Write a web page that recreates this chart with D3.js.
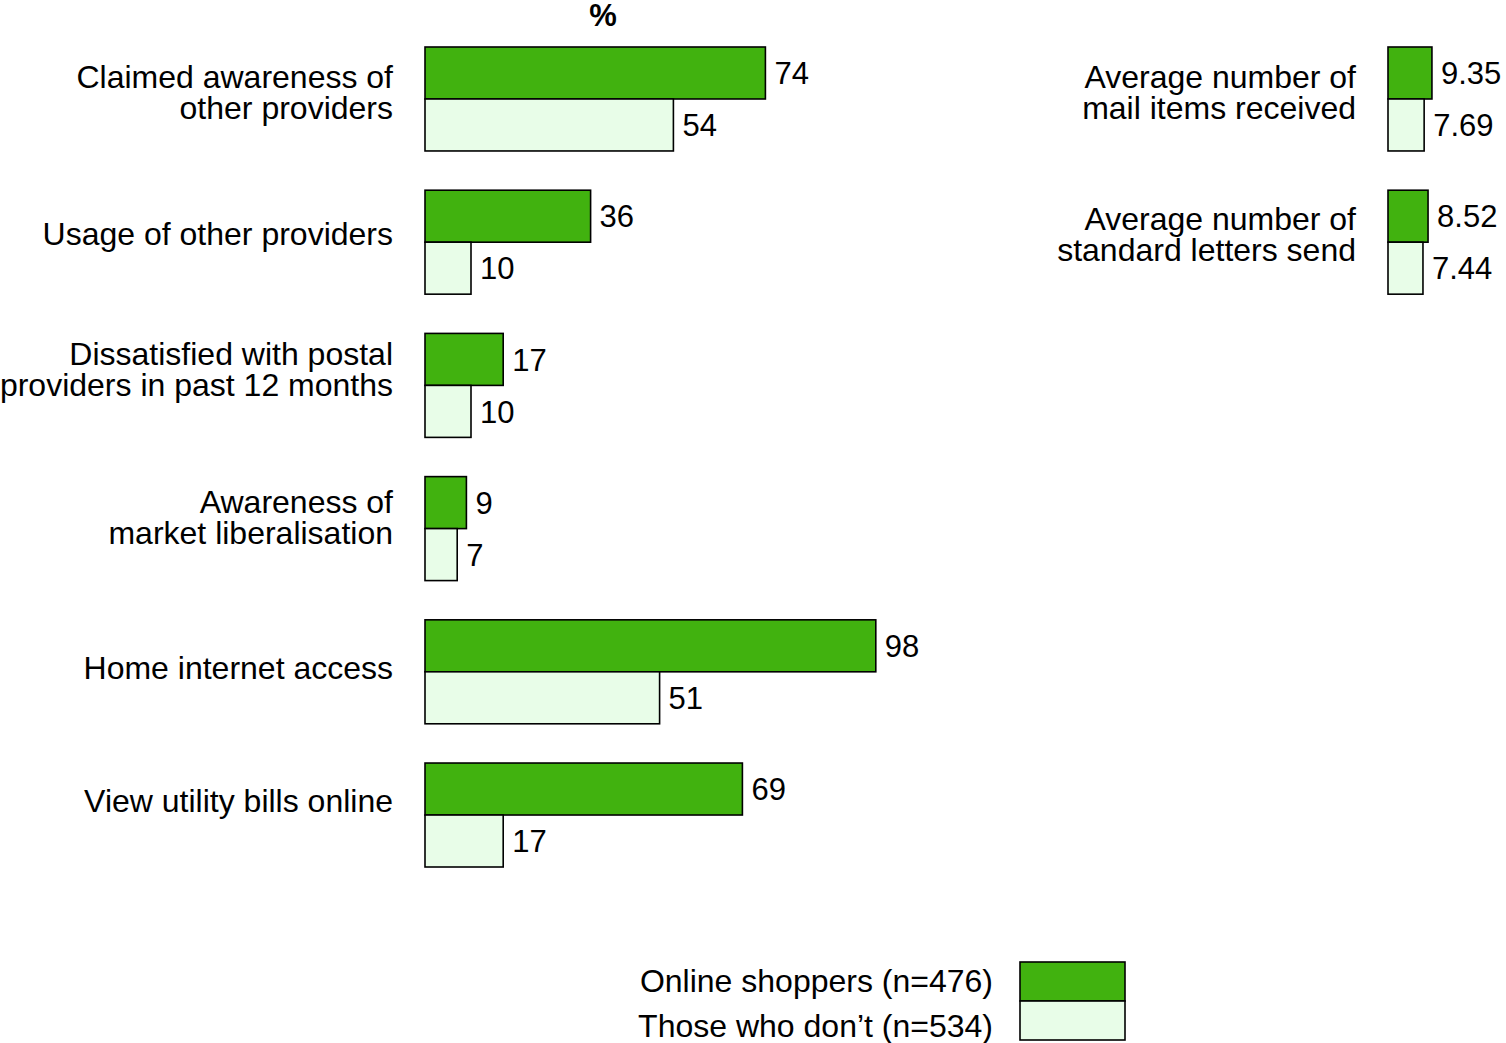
<!DOCTYPE html>
<html>
<head>
<meta charset="utf-8">
<script src="https://cdnjs.cloudflare.com/ajax/libs/d3/7.8.5/d3.min.js"></script>
<style>
  body { margin: 0; background: #fff; }
  text { font-family: "Liberation Sans", Arial, sans-serif; fill: #000; }
</style>
</head>
<body>
<div class="chart"></div>
<script>
// left panel, percentages
var categories = [
    ["Claimed awareness of", "other providers"],
    ["Usage of other providers"],
    ["Dissatisfied with postal", "providers in past 12 months"],
    ["Awareness of", "market liberalisation"],
    ["Home internet access"],
    ["View utility bills online"]
];
var onlineShoppers = [74, 36, 17, 9, 98, 69];
var nonShoppers = [54, 10, 10, 7, 51, 17];

// right panel, averages
var avgCategories = [
    ["Average number of", "mail items received"],
    ["Average number of", "standard letters send"]
];
var avgOnline = [9.35, 8.52];
var avgNon = [7.69, 7.44];
var avgLabels = [["9.35", "7.69"], ["8.52", "7.44"]];

var seriesNames = ["Online shoppers (n=476)", "Those who don\u2019t (n=534)"];

var svgW = 1506;
var svgH = 1043;
var green = "#41b20f";
var pale = "#e8fde8";

var svg = d3.select(".chart")
    .append("svg")
    .attr("width", svgW)
    .attr("height", svgH);

var xLS = d3.scaleLinear().domain([0, 100]).range([425, 885]);
var yLS = d3.scaleBand()
    .domain(d3.range(categories.length))
    .range([47, 867])
    .paddingInner(0.274)
    .paddingOuter(0);
var barH = yLS.bandwidth() / 2;

var xRS = d3.scaleLinear().domain([0, 10]).range([1388, 1435]);
var yRS = d3.scaleBand()
    .domain(d3.range(avgCategories.length))
    .range([47, 47 + yLS.step() + yLS.bandwidth()])
    .paddingInner(0.274)
    .paddingOuter(0);

svg.append("text")
    .attr("x", 603)
    .attr("y", 15)
    .attr("dy", "0.35em")
    .attr("text-anchor", "middle")
    .style("font-size", "31px")
    .style("font-weight", "bold")
    .text("%");

function drawPanel(g, cats, s1, s2, lab, xs, ys, labelX, offsets) {
    var rows = g.selectAll("g.row")
        .data(cats)
        .enter()
        .append("g")
        .attr("class", "row")
        .attr("transform", function(d, i) { return "translate(0," + ys(i) + ")"; });

    rows.append("rect")
        .attr("x", xs(0))
        .attr("y", 0)
        .attr("width", function(d, i) { return xs(s1[i]) - xs(0); })
        .attr("height", barH)
        .attr("fill", green)
        .attr("stroke", "#000")
        .attr("stroke-width", 1.6);

    rows.append("rect")
        .attr("x", xs(0))
        .attr("y", barH)
        .attr("width", function(d, i) { return xs(s2[i]) - xs(0); })
        .attr("height", barH)
        .attr("fill", pale)
        .attr("stroke", "#000")
        .attr("stroke-width", 1.6);

    rows.append("text")
        .attr("x", function(d, i) { return xs(s1[i]) + 9; })
        .attr("y", barH / 2)
        .attr("dy", "0.36em")
        .style("font-size", "31px")
        .text(function(d, i) { return lab(i, 0); });

    rows.append("text")
        .attr("x", function(d, i) { return xs(s2[i]) + 9; })
        .attr("y", barH * 1.5)
        .attr("dy", "0.36em")
        .style("font-size", "31px")
        .text(function(d, i) { return lab(i, 1); });

    rows.each(function(d, i) {
        var t = d3.select(this).append("text")
            .attr("text-anchor", "end")
            .style("font-size", "32px");
        var mid = barH + offsets[i];
        d.forEach(function(line, k) {
            t.append("tspan")
                .attr("x", labelX)
                .attr("y", mid + (k - (d.length - 1) / 2) * 31)
                .attr("dy", "0.36em")
                .text(line);
        });
    });
}

drawPanel(svg.append("g"), categories, onlineShoppers, nonShoppers,
    function(i, k) { return k === 0 ? onlineShoppers[i] : nonShoppers[i]; },
    xLS, yLS, 393, [-7, -9, -16, -12, -4, -15]);

drawPanel(svg.append("g"), avgCategories, avgOnline, avgNon,
    function(i, k) { return avgLabels[i][k]; },
    xRS, yRS, 1356, [-7, -8]);

// legend
var legend = svg.append("g").attr("class", "legend");
legend.selectAll("rect")
    .data(seriesNames)
    .enter()
    .append("rect")
    .attr("x", 1020)
    .attr("y", function(d, i) { return 962 + i * 39; })
    .attr("width", 105)
    .attr("height", 39)
    .attr("fill", function(d, i) { return i === 0 ? green : pale; })
    .attr("stroke", "#000")
    .attr("stroke-width", 1.6);

legend.selectAll("text")
    .data(seriesNames)
    .enter()
    .append("text")
    .attr("x", 993)
    .attr("y", function(d, i) { return 980 + i * 45; })
    .attr("dy", "0.36em")
    .attr("text-anchor", "end")
    .style("font-size", "32px")
    .text(function(d) { return d; });
</script>
</body>
</html>
